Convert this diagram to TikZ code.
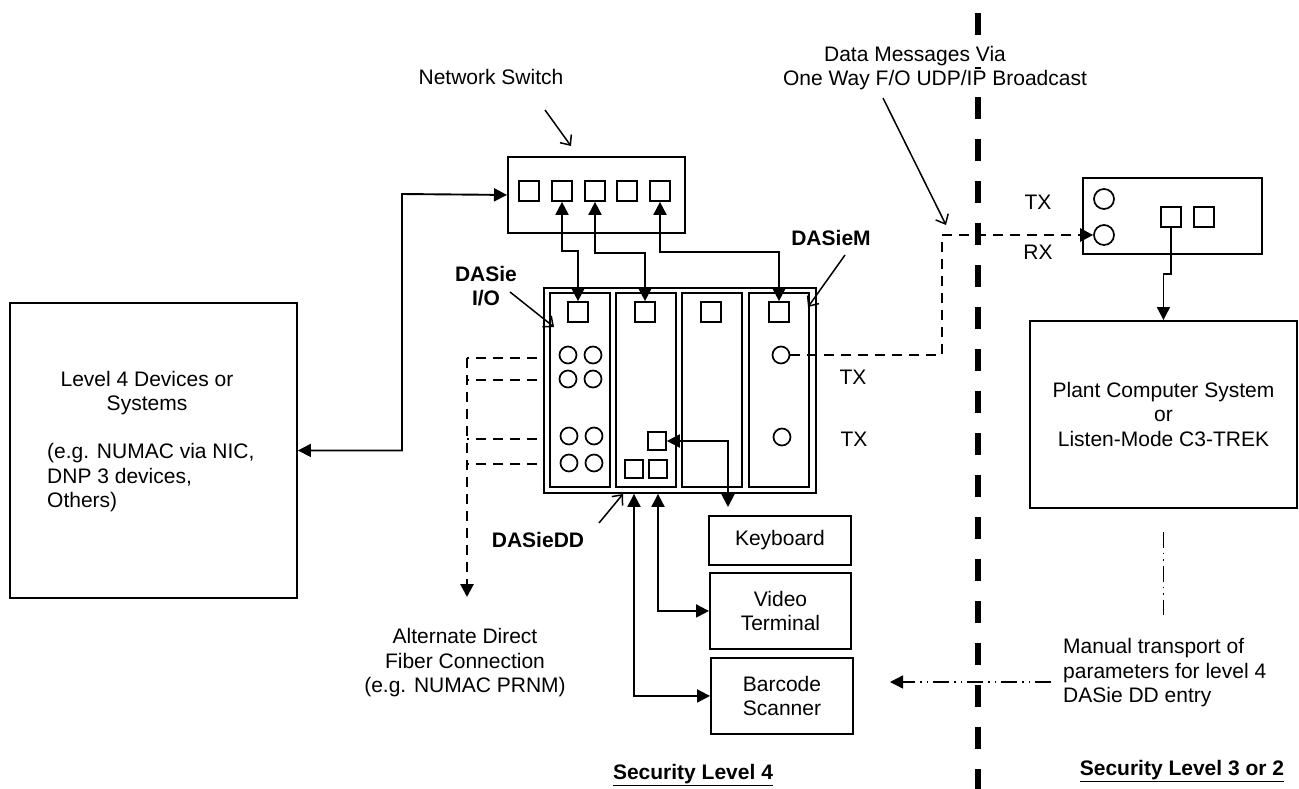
\documentclass[tikz,border=0pt]{standalone}
\usepackage{fontspec}
\setmainfont{Liberation Sans}
\usetikzlibrary{arrows.meta,calc}
\newcommand\myfs{\fontsize{21}{24.5}\selectfont}
\begin{document}
\begin{tikzpicture}[x=1pt,y=-1pt,
  box/.style={draw, line width=1.9pt, inner sep=0pt, anchor=north west},
  port/.style={draw, line width=1.7pt, minimum size=20pt, inner sep=0pt},
  sport/.style={draw, line width=1.7pt, minimum size=18pt, inner sep=0pt},
  jack/.style={draw, circle, line width=1.7pt, minimum size=17pt, inner sep=0pt},
  conn/.style={line width=1.9pt},
  dtip/.style={{Triangle[length=13pt,width=13pt]}-{Triangle[length=13pt,width=13pt]}},
  etip/.style={-{Triangle[length=13pt,width=13pt]}},
  fib/.style={line width=2.7pt, dash pattern=on 10pt off 7pt},
  dashdot/.style={line width=1.5pt, dash pattern=on 16pt off 5pt on 1.5pt off 5pt on 1.5pt off 5pt},
  callout/.style={line width=1.5pt, -{Straight Barb[length=8pt,width=14pt]}},
  lbl/.style={font=\myfs, inner sep=0pt, align=center},
  blbl/.style={font=\myfs\bfseries, inner sep=0pt, align=center},
]
\useasboundingbox (0,0) rectangle (1299,788);
\fill[white] (0,0) rectangle (1299,788);

% security boundary
\coordinate (bt) at (978,13);
\coordinate (bb) at (978,790);
\draw[line width=6pt, dash pattern=on 22pt off 20pt] (bt) -- (bb);

% Level 4 devices
\node[box, minimum width=287pt, minimum height=295pt] (l4) at (9,302) {};
\node[lbl] (l4t) at (147,393) {Level 4 Devices or\\Systems};
\node[lbl, align=left, anchor=west] (l4e) at (47,478) {(e.g. NUMAC via NIC,\\DNP 3 devices,\\Others)};

% network switch
\node[box, minimum width=177pt, minimum height=76pt] (sw) at (507,156) {};
\foreach \i/\x in {1/529,2/562,3/595,4/627,5/660} \node[port] (sp\i) at (\x,191) {};
\node[lbl] (swl) at (491,77) {Network Switch};
\coordinate (swa) at (545,110);
\coordinate (swb) at (571,146);
\draw[callout] (swa) -- (swb);

\draw[conn,dtip] (l4.east) -| (402,194) -- (sw.west);

% rack
\node[box, minimum width=272pt, minimum height=205pt] (rack) at (543,287) {};
\foreach \i/\x in {1/549,2/615,3/681,4/748}
  \node[box, minimum width=60pt, minimum height=194pt] (s\i) at (\x,292) {};
\foreach \i/\x in {1/578,2/645,3/711,4/779} \node[port] (p\i) at (\x,312) {};

\draw[conn,dtip] (sp2.south) -- ++(0,49) -| (p1.north);
\draw[conn,dtip] (sp3.south) -- ++(0,51) -| (p2.north);
\draw[conn,dtip] (sp5.south) -- ++(0,50) -| (p4.north);

\foreach \i/\x/\y in {1/568/355,2/593/355,3/568/379,4/593/379,5/569/436,6/594/436,7/569/463,8/594/463}
  \node[jack] (c\i) at (\x,\y) {};
\node[jack] (m1) at (781,355) {};
\node[jack] (m2) at (782,437) {};
\node[lbl] (tx1) at (853,377) {TX};
\node[lbl] (tx2) at (854,439) {TX};

\node[sport] (q1) at (657,441) {};
\node[sport] (q2) at (634,469) {};
\node[sport] (q3) at (658,469) {};

% peripherals
\node[box, minimum width=142pt, minimum height=49pt, font=\myfs, align=center] (kb) at (708,515) {Keyboard};
\node[box, minimum width=141pt, minimum height=76pt, font=\myfs, align=center] (vt) at (709,572) {Video\\Terminal};
\node[box, minimum width=142pt, minimum height=76pt, font=\myfs, align=center] (bc) at (710,657) {Barcode\\Scanner};

\draw[conn,dtip] (q1.east) -| ($(kb.north west)+(20,-8)$);
\draw[conn,dtip] (q2 |- rack.south) |- (bc.west);
\draw[conn,dtip] (q3 |- rack.south) |- (vt.west);

% labels with callouts
\node[blbl] (ddl) at (538,540) {DASieDD};
\coordinate (dda) at (599,523);
\coordinate (ddb) at (623,494);
\draw[callout] (dda) -- (ddb);
\node[blbl] (iol) at (486,286) {DASie\\I/O};
\coordinate (ioa) at (510,292);
\coordinate (iob) at (554,327);
\draw[callout] (ioa) -- (iob);
\node[blbl] (ml) at (831,238) {DASieM};
\coordinate (ma) at (845,255);
\coordinate (mb) at (808,307);
\draw[callout] (ma) -- (mb);

% alternate fibers
\coordinate (fd) at (467,597);
\foreach \y in {358,380,439,464} \draw[fib] (537,\y) -- (467,\y);
\draw[fib, etip] (467,358) -- (fd);
\node[lbl] (alt) at (465,663) {Alternate Direct\\Fiber Connection\\(e.g. NUMAC PRNM)};

% receiver
\node[box, minimum width=179pt, minimum height=76pt] (trx) at (1082,177) {};
\node[jack, minimum size=20pt] (txc) at (1104,199) {};
\node[jack, minimum size=20pt] (rxc) at (1104,235) {};
\node[port] (r1) at (1171,217) {};
\node[port] (r2) at (1204,217) {};
\node[lbl] (txl) at (1038,202) {TX};
\node[lbl] (rxl) at (1038,252) {RX};
\draw[fib, etip] (m1.east) -| (942,235) -- (rxc.west);

\node[lbl, fill=white, inner sep=1pt] (dm1) at (915,56) {Data Messages Via};
\node[lbl, fill=white, inner sep=1pt] (dm2) at (935,80) {One Way F/O UDP/IP Broadcast};
\coordinate (dma) at (883,98);
\coordinate (dmb) at (946,225);
\draw[callout] (dma) -- (dmb);

% plant computer
\node[box, minimum width=267pt, minimum height=187pt, font=\myfs, align=center] (pcs) at (1029,320) {Plant Computer System\\or\\Listen-Mode C3-TREK};
\draw[conn,etip] (r1.south) -- ++(0,46) -| (pcs.north);
\draw[dashdot] ($(pcs.south)+(0,23)$) -- ++(0,83);

% manual transport
\node[lbl, align=left, anchor=west] (mt) at (1063,673) {Manual transport of\\parameters for level 4\\DASie DD entry};
\coordinate (mts) at (1051,682);
\coordinate (mte) at (890,682);
\draw[dashdot, etip] (mts) -- (mte);

% security level labels
\node[blbl] (sl4) at (693,775) {\underline{Security Level 4}};
\node[blbl] (sl3) at (1182,771) {\underline{Security Level 3 or 2}};
\end{tikzpicture}
\end{document}
